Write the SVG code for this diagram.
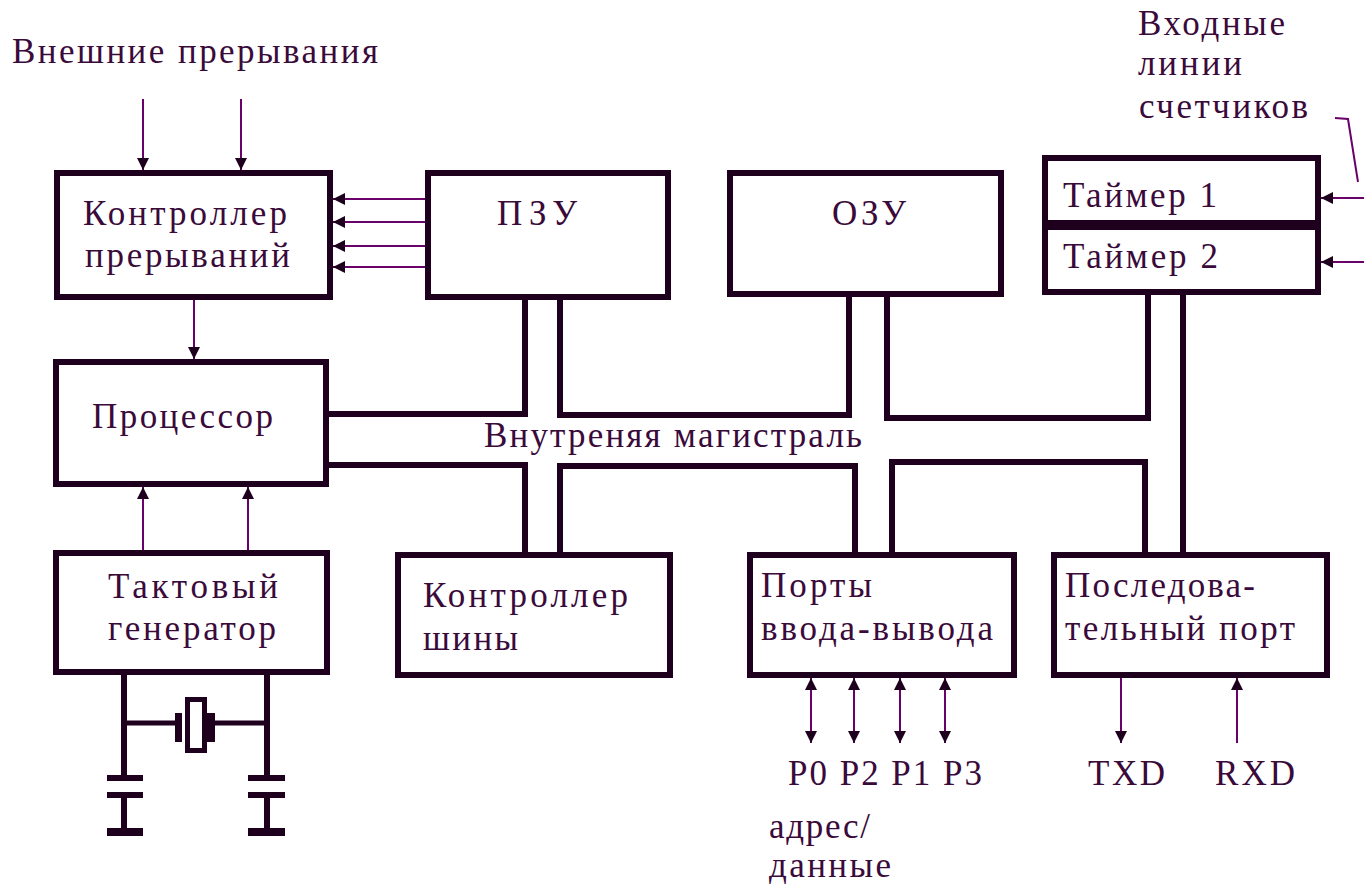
<svg xmlns="http://www.w3.org/2000/svg" width="1364" height="889" viewBox="0 0 1364 889">
<style>
.box{fill:#fff;stroke:#1e001e;stroke-width:6}
.bus{fill:none;stroke:#1e001e;stroke-width:6}
.wire{fill:none;stroke:#6a006a;stroke-width:2}
.solid{fill:#1e001e;stroke:none}
.t{font-family:"Liberation Serif","Times New Roman",serif;font-size:35px;fill:#3a0a3a}
</style>
<defs>
<marker id="ah" viewBox="0 0 12 12" refX="12" refY="6" markerWidth="12" markerHeight="12" markerUnits="userSpaceOnUse" orient="auto-start-reverse">
<path d="M0,0 L12,6 L0,12 z" fill="#1e001e"/>
</marker>
</defs>
<rect width="1364" height="889" fill="#fff"/>

<text class="t" x="12" y="63" textLength="366" lengthAdjust="spacing">Внешние прерывания</text>
<text class="t" x="1138" y="35" textLength="147" lengthAdjust="spacing">Входные</text>
<text class="t" x="1138" y="75" textLength="104" lengthAdjust="spacing">линии</text>
<text class="t" x="1139" y="118" textLength="169" lengthAdjust="spacing">счетчиков</text>
<text class="t" x="484" y="447" textLength="378" lengthAdjust="spacing">Внутреняя магистраль</text>
<text class="t" x="788" y="785" textLength="194" lengthAdjust="spacing">P0 P2 P1 P3</text>
<text class="t" x="1088" y="785" textLength="77" lengthAdjust="spacing">TXD</text>
<text class="t" x="1215" y="785" textLength="80" lengthAdjust="spacing">RXD</text>
<text class="t" x="769" y="838" textLength="101" lengthAdjust="spacing">адрес/</text>
<text class="t" x="769" y="877" textLength="122" lengthAdjust="spacing">данные</text>

<g id="connectors">
<path class="bus" d="M326 414 H525 V297"/>
<path class="bus" d="M560 297 V415 H849 V294"/>
<path class="bus" d="M887 294 V418 H1148 V292"/>
<path class="bus" d="M1183 292 V555"/>
<path class="bus" d="M326 465 H525 V555"/>
<path class="bus" d="M560 555 V466 H855 V555"/>
<path class="bus" d="M892 555 V462 H1145 V555"/>

<line class="wire" x1="143" y1="99" x2="143" y2="170" marker-end="url(#ah)"/>
<line class="wire" x1="241" y1="99" x2="241" y2="170" marker-end="url(#ah)"/>
<line class="wire" x1="425" y1="199" x2="333" y2="199" marker-end="url(#ah)"/>
<line class="wire" x1="425" y1="222" x2="333" y2="222" marker-end="url(#ah)"/>
<line class="wire" x1="425" y1="246" x2="333" y2="246" marker-end="url(#ah)"/>
<line class="wire" x1="425" y1="267" x2="333" y2="267" marker-end="url(#ah)"/>
<line class="wire" x1="194" y1="300" x2="194" y2="359" marker-end="url(#ah)"/>
<line class="wire" x1="143" y1="550" x2="143" y2="487" marker-end="url(#ah)"/>
<line class="wire" x1="248" y1="550" x2="248" y2="487" marker-end="url(#ah)"/>
<line class="wire" x1="1364" y1="198" x2="1321" y2="198" marker-end="url(#ah)"/>
<line class="wire" x1="1364" y1="262" x2="1321" y2="262" marker-end="url(#ah)"/>
<polyline class="wire" points="1335,118 1348,119 1358,182"/>
<line class="wire" x1="811" y1="678" x2="811" y2="743" marker-start="url(#ah)" marker-end="url(#ah)"/>
<line class="wire" x1="854" y1="678" x2="854" y2="743" marker-start="url(#ah)" marker-end="url(#ah)"/>
<line class="wire" x1="900" y1="678" x2="900" y2="743" marker-start="url(#ah)" marker-end="url(#ah)"/>
<line class="wire" x1="945" y1="678" x2="945" y2="743" marker-start="url(#ah)" marker-end="url(#ah)"/>
<line class="wire" x1="1121" y1="678" x2="1121" y2="743" marker-end="url(#ah)"/>
<line class="wire" x1="1237" y1="743" x2="1237" y2="678" marker-end="url(#ah)"/>
</g>

<g id="int-ctrl">
<rect class="box" x="57" y="173" width="273" height="124"/>
<text class="t" x="83" y="225" textLength="204" lengthAdjust="spacing">Контроллер</text>
<text class="t" x="85" y="267" textLength="205" lengthAdjust="spacing">прерываний</text>
</g>
<g id="rom">
<rect class="box" x="428" y="173" width="240" height="124"/>
<text class="t" x="497" y="225" textLength="80" lengthAdjust="spacing">ПЗУ</text>
</g>
<g id="ram">
<rect class="box" x="730" y="173" width="271" height="121"/>
<text class="t" x="832" y="225" textLength="74" lengthAdjust="spacing">ОЗУ</text>
</g>
<g id="timer1">
<rect class="box" x="1045" y="158" width="273" height="65"/>
<text class="t" x="1063" y="207" textLength="154" lengthAdjust="spacing">Таймер 1</text>
</g>
<g id="timer2">
<rect class="box" x="1045" y="227" width="273" height="65"/>
<text class="t" x="1063" y="268" textLength="155" lengthAdjust="spacing">Таймер 2</text>
</g>
<g id="cpu">
<rect class="box" x="56" y="362" width="270" height="122"/>
<text class="t" x="92" y="428" textLength="181" lengthAdjust="spacing">Процессор</text>
</g>
<g id="clock">
<rect class="box" x="56" y="553" width="271" height="119"/>
<text class="t" x="108" y="598" textLength="170" lengthAdjust="spacing">Тактовый</text>
<text class="t" x="108" y="640" textLength="168" lengthAdjust="spacing">генератор</text>
</g>
<g id="bus-ctrl">
<rect class="box" x="398" y="555" width="272" height="120"/>
<text class="t" x="423" y="607" textLength="205" lengthAdjust="spacing">Контроллер</text>
<text class="t" x="423" y="650" textLength="95" lengthAdjust="spacing">шины</text>
</g>
<g id="io-ports">
<rect class="box" x="750" y="555" width="264" height="120"/>
<text class="t" x="761" y="597" textLength="111" lengthAdjust="spacing">Порты</text>
<text class="t" x="761" y="640" textLength="232" lengthAdjust="spacing">ввода-вывода</text>
</g>
<g id="serial">
<rect class="box" x="1054" y="555" width="273" height="120"/>
<text class="t" x="1065" y="597" textLength="190" lengthAdjust="spacing">Последова-</text>
<text class="t" x="1065" y="640" textLength="230" lengthAdjust="spacing">тельный порт</text>
</g>

<g id="crystal">
<line class="bus" x1="124" y1="672" x2="124" y2="778"/>
<line class="bus" x1="267" y1="672" x2="267" y2="778"/>
<line class="bus" x1="124" y1="723" x2="176" y2="723" style="stroke-width:5"/>
<line class="bus" x1="214" y1="723" x2="267" y2="723" style="stroke-width:5"/>
<rect class="solid" x="175" y="713" width="7" height="29"/>
<rect x="187.5" y="699.5" width="17" height="51" fill="#fff" stroke="#1e001e" stroke-width="5"/>
<rect class="solid" x="207" y="713" width="8" height="29"/>
<rect class="solid" x="107" y="775" width="36" height="6"/>
<rect class="solid" x="107" y="792" width="36" height="6"/>
<line class="bus" x1="124" y1="795" x2="124" y2="830"/>
<rect class="solid" x="107" y="828" width="36" height="8"/>
<rect class="solid" x="248" y="775" width="37" height="6"/>
<rect class="solid" x="248" y="792" width="37" height="6"/>
<line class="bus" x1="267" y1="795" x2="267" y2="830"/>
<rect class="solid" x="248" y="828" width="37" height="8"/>
</g>
</svg>
